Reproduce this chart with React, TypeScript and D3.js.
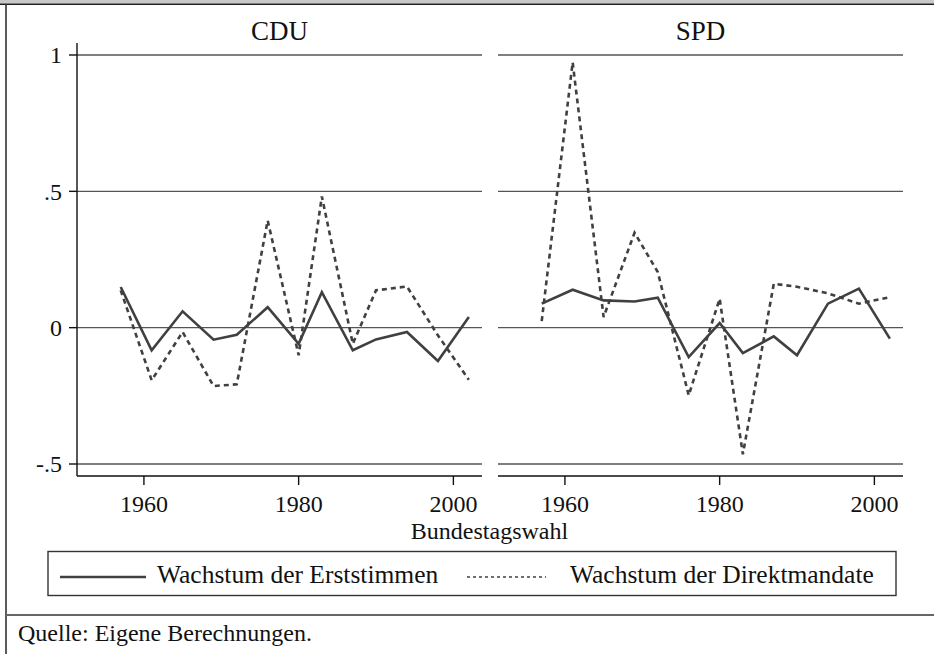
import React from "react";
import * as d3 from "d3";

// Bundestagswahlen
const years = [1957, 1961, 1965, 1969, 1972, 1976, 1980, 1983, 1987, 1990, 1994, 1998, 2002];

// growth of first votes (solid) and direct mandates (dashed)
const cduErst = [0.149, -0.083, 0.06, -0.044, -0.026, 0.075, -0.059, 0.13, -0.083, -0.043, -0.016, -0.122, 0.039];
const cduDirekt = [0.137, -0.193, -0.016, -0.214, -0.208, 0.393, -0.101, 0.481, -0.059, 0.137, 0.151, -0.028, -0.191];
const spdErst = [0.088, 0.139, 0.1, 0.096, 0.11, -0.108, 0.017, -0.093, -0.032, -0.101, 0.088, 0.143, -0.04];
const spdDirekt = [0.024, 0.973, 0.039, 0.348, 0.204, -0.248, 0.106, -0.464, 0.161, 0.15, 0.126, 0.088, 0.112];

const panels = [
  { name: "CDU", erst: cduErst, direkt: cduDirekt },
  { name: "SPD", erst: spdErst, direkt: spdDirekt },
];

const yTicks = [1, 0.5, 0, -0.5];
const yTickLabels = ["1", ".5", "0", "-.5"];
const xTicks = [1960, 1980, 2000];

const legendLabels = ["Wachstum der Erststimmen", "Wachstum der Direktmandate"];

const W = 934;
const H = 654;
const FONT = "'Liberation Serif', 'Times New Roman', serif";
const INK = "#404040";

// panel geometry
const panelLeft = [77, 498];
const panelWidth = 405;
const plotTop = 43;
const plotBottom = 476;

export default function App() {
  const y = d3.scaleLinear().domain([-0.544, 1.044]).range([plotBottom, plotTop]);

  return (
    <svg width={W} height={H} style={{ position: "absolute", left: 0, top: 0, background: "#fff" }}
      fontFamily={FONT}>
      <rect x={0} y={0} width={W} height={H} fill="#fff" />
      {/* frame */}
      <rect x={0} y={0} width={W} height={3.5} fill="#c8c8c8" />
      <line x1={0} x2={W} y1={4.2} y2={4.2} stroke="#1e1e1e" strokeWidth={1.6} />
      <line x1={6} x2={6} y1={4} y2={H} stroke="#333" strokeWidth={1.6} />
      <line x1={6} x2={W} y1={615} y2={615} stroke="#666" strokeWidth={2} />

      {panels.map((p, pi) => {
        const x0 = panelLeft[pi];
        const x = d3.scaleLinear().domain([1951.35, 2003.7]).range([x0, x0 + panelWidth]);
        const line = d3.line<number>()
          .x((_, i) => x(years[i]))
          .y((d) => y(d));
        return (
          <g key={p.name}>
            <text x={x0 + panelWidth / 2} y={40} textAnchor="middle" fontSize={27} fill="#111">
              {p.name}
            </text>
            {yTicks.map((t) => (
              <line key={t} x1={x0} x2={x0 + panelWidth} y1={y(t)} y2={y(t)} stroke="#555" strokeWidth={1.4} />
            ))}
            <line x1={x0} x2={x0 + panelWidth} y1={plotBottom} y2={plotBottom} stroke="#111" strokeWidth={1.4} />
            {xTicks.map((t) => (
              <g key={t}>
                <line x1={x(t)} x2={x(t)} y1={plotBottom} y2={plotBottom + 9} stroke="#111" strokeWidth={1.4} />
                <text x={x(t)} y={512} textAnchor="middle" fontSize={24} fill="#111">{t}</text>
              </g>
            ))}
            {pi === 0 && (
              <g>
                <line x1={x0} x2={x0} y1={plotTop} y2={plotBottom} stroke="#111" strokeWidth={1.4} />
                {yTicks.map((t, i) => (
                  <g key={t}>
                    <line x1={x0 - 8} x2={x0} y1={y(t)} y2={y(t)} stroke="#111" strokeWidth={1.4} />
                    <text x={62} y={y(t)} dy="0.35em" textAnchor="end" fontSize={24} fill="#111">
                      {yTickLabels[i]}
                    </text>
                  </g>
                ))}
              </g>
            )}
            <path d={line(p.erst) || ""} fill="none" stroke={INK} strokeWidth={2.6} strokeLinejoin="miter" />
            <path d={line(p.direkt) || ""} fill="none" stroke={INK} strokeWidth={2.6} strokeDasharray="5,4" />
          </g>
        );
      })}

      <text x={489.5} y={539} textAnchor="middle" fontSize={24} fill="#111">Bundestagswahl</text>

      {/* legend */}
      <rect x={48} y={551.5} width={848} height={44} fill="#fff" stroke="#333" strokeWidth={1.4} />
      <line x1={60} x2={146} y1={577} y2={577} stroke={INK} strokeWidth={2.6} />
      <text x={157} y={583} fontSize={25.5} fill="#111">{legendLabels[0]}</text>
      <line x1={467} x2={546} y1={577} y2={577} stroke={INK} strokeWidth={1.6} strokeDasharray="3,3" />
      <text x={570} y={583} fontSize={25.5} fill="#111">{legendLabels[1]}</text>

      <text x={18} y={641} fontSize={24} fill="#111">Quelle: Eigene Berechnungen.</text>
    </svg>
  );
}
